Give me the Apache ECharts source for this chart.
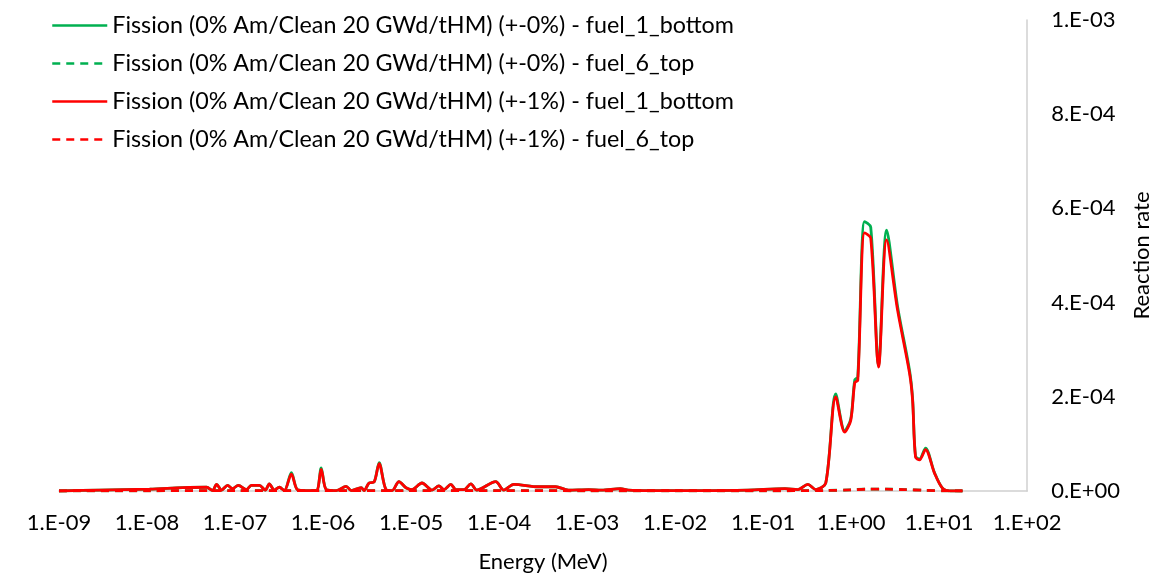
<!DOCTYPE html>
<html>
<head>
<meta charset="utf-8">
<title>Fission reaction rate</title>
<script src="https://cdn.jsdelivr.net/npm/echarts@6/dist/echarts.min.js"></script>
<style>
  html, body { margin: 0; padding: 0; background: #fff; }
  #chart { width: 1161px; height: 581px; }
</style>
</head>
<body>
<div id="chart"></div>
<script>
// energy grid (MeV) for the fuel_1_bottom curves
const energy = [
  1.0e-9, 2.9e-9, 1.07e-8, 2.54e-8, 4.75e-8, 5.56e-8, 6.17e-8, 7.03e-8, 8.23e-8, 9.35e-8,
  1.09e-7, 1.35e-7, 1.53e-7, 1.89e-7, 2.21e-7, 2.45e-7, 2.80e-7, 3.19e-7, 3.63e-7, 4.37e-7,
  5.11e-7, 6.46e-7, 8.38e-7, 9.53e-7, 1.09e-6, 1.41e-6, 1.83e-6, 2.09e-6, 2.71e-6, 2.93e-6,
  3.33e-6, 3.80e-6, 4.34e-6, 5.20e-6, 6.08e-6, 7.29e-6, 8.75e-6, 1.02e-5, 1.33e-5, 1.73e-5,
  2.07e-5, 2.36e-5, 2.83e-5, 3.23e-5, 3.98e-5, 4.78e-5, 5.58e-5, 9.16e-5, 1.13e-4, 1.47e-4,
  2.81e-4, 4.39e-4, 6.15e-4, 1.04e-3, 1.46e-3, 2.39e-3, 2.94e-3, 5.36e-3, 1.83e-2, 6.73e-2,
  0.177, 0.248, 0.322, 0.397, 0.515, 0.668, 0.845, 0.99, 1.10, 1.19,
  1.42, 1.67, 2.05, 2.53, 3.37, 4.61, 4.99, 5.39, 5.98, 7.0,
  8.85, 10.9, 13.4, 18.4
];

// +-0% fuel_1_bottom (green)
const rate0Bottom = [
  0, 2e-6, 4e-6, 7e-6, 8e-6, 1e-6, 1.4e-5, 2e-6, 1.2e-5, 5e-6,
  1.2e-5, 3e-6, 1.2e-5, 1.2e-5, 2e-6, 1.5e-5, 2e-6, 8e-6, 1e-6, 3.9e-5,
  3e-6, 1e-6, 1e-6, 4.9e-5, 3e-6, 1e-6, 1e-5, 1e-6, 7e-6, 1e-6,
  1.7e-5, 1.9e-5, 6.0e-5, 3e-6, 1e-6, 2e-5, 7e-6, 3e-6, 1.7e-5, 2e-6,
  1.1e-5, 3e-6, 1.4e-5, 3e-6, 3e-6, 1.5e-5, 2e-6, 2e-5, 2e-6, 1.4e-5,
  9e-6, 9e-6, 2e-6, 3e-6, 2e-6, 5e-6, 2e-6, 1e-6, 1e-6, 2e-6,
  5e-6, 3e-6, 1.4e-5, 3e-6, 1.7e-5, 2.06e-4, 1.28e-4, 1.53e-4, 2.36e-4, 2.42e-4,
  5.72e-4, 5.6e-4, 2.67e-4, 5.54e-4, 3.92e-4, 2.56e-4, 1.97e-4, 7.4e-5, 6.8e-5, 9.1e-5,
  3.9e-5, 6e-6, 0, 0
];

// +-1% fuel_1_bottom (red)
const rate1Bottom = [
  0, 2e-6, 4e-6, 7e-6, 8e-6, 1e-6, 1.4e-5, 2e-6, 1.2e-5, 5e-6,
  1.2e-5, 3e-6, 1.2e-5, 1.2e-5, 2e-6, 1.5e-5, 2e-6, 8e-6, 1e-6, 3.6e-5,
  3e-6, 1e-6, 1e-6, 4.6e-5, 3e-6, 1e-6, 1e-5, 1e-6, 7e-6, 1e-6,
  1.7e-5, 1.9e-5, 5.8e-5, 3e-6, 1e-6, 2e-5, 7e-6, 3e-6, 1.7e-5, 2e-6,
  1.1e-5, 3e-6, 1.4e-5, 3e-6, 3e-6, 1.5e-5, 2e-6, 2e-5, 2e-6, 1.4e-5,
  9e-6, 9e-6, 2e-6, 3e-6, 2e-6, 5e-6, 2e-6, 1e-6, 1e-6, 2e-6,
  5e-6, 3e-6, 1.4e-5, 3e-6, 1.7e-5, 2.0e-4, 1.25e-4, 1.5e-4, 2.3e-4, 2.35e-4,
  5.48e-4, 5.37e-4, 2.63e-4, 5.33e-4, 3.84e-4, 2.5e-4, 1.93e-4, 7.2e-5, 6.6e-5, 8.8e-5,
  3.8e-5, 6e-6, 0, 0
];

// fuel_6_top curves stay close to zero
const energyTop = [1e-9, 1e-8, 1e-7, 1e-6, 1e-5, 1e-4, 1e-3, 1e-2, 0.1, 0.5, 1.0, 1.5, 2.5, 4.0, 7.0, 12.0, 18.4];
const rate0Top = [0, 5e-7, 1e-6, 1e-6, 1e-6, 1e-6, 5e-7, 5e-7, 5e-7, 1e-6, 2.5e-6, 4e-6, 4e-6, 3e-6, 1.5e-6, 3e-7, 0];
const rate1Top = [0, 5e-7, 1e-6, 1e-6, 1e-6, 1e-6, 5e-7, 5e-7, 5e-7, 1e-6, 2.4e-6, 3.8e-6, 3.8e-6, 2.9e-6, 1.4e-6, 3e-7, 0];

const seriesNames = [
  'Fission (0% Am/Clean 20 GWd/tHM) (+-0%) - fuel_1_bottom',
  'Fission (0% Am/Clean 20 GWd/tHM) (+-0%) - fuel_6_top',
  'Fission (0% Am/Clean 20 GWd/tHM) (+-1%) - fuel_1_bottom',
  'Fission (0% Am/Clean 20 GWd/tHM) (+-1%) - fuel_6_top'
];

const xTickLabels = ['1.E-09', '1.E-08', '1.E-07', '1.E-06', '1.E-05', '1.E-04', '1.E-03', '1.E-02', '1.E-01', '1.E+00', '1.E+01', '1.E+02'];
const yTickLabels = ['0.E+00', '2.E-04', '4.E-04', '6.E-04', '8.E-04', '1.E-03'];

const green = '#00b050';
const red = '#ff0000';
const font = 'Lato';

function pairs(xs, ys) {
  return xs.map((x, i) => [x, ys[i]]);
}

function makeLine(name, data, color, dashed) {
  return {
    name: name,
    type: 'line',
    data: data,
    smooth: 0.3,
    symbol: 'none',
    lineStyle: {
      color: color,
      width: 2.8,
      type: dashed ? [8, 6] : 'solid'
    },
    itemStyle: { color: color }
  };
}

const myChart = echarts.init(document.getElementById('chart'));

let option = {
  animation: false,
  textStyle: { fontFamily: font },
  legend: {
    orient: 'vertical',
    left: 51,
    top: 14,
    padding: 0,
    itemWidth: 55,
    itemHeight: 16,
    itemGap: 15,
    // hide the marker circle, keep only the line sample
    itemStyle: { opacity: 0 },
    lineStyle: { width: 2.5 },
    textStyle: { fontFamily: font, fontSize: 23.3, color: '#000' },
    data: seriesNames
  },
  grid: {
    left: 59,
    right: 131,
    top: 20,
    bottom: 90
  },
  xAxis: {
    type: 'log',
    logBase: 10,
    min: 1e-9,
    max: 1e2,
    interval: 1,
    name: 'Energy (MeV)',
    nameLocation: 'middle',
    nameGap: 60,
    nameTextStyle: { fontFamily: font, fontSize: 22, color: '#000' },
    axisLine: { show: true, lineStyle: { color: '#d0d0d0', width: 1.5 } },
    axisTick: { show: false },
    splitLine: { show: false },
    axisLabel: {
      margin: 21,
      fontFamily: font,
      fontSize: 22,
      color: '#000',
      formatter: function (value) {
        let idx = Math.round(Math.log10(value)) + 9;
        return xTickLabels[idx];
      }
    }
  },
  yAxis: {
    type: 'value',
    position: 'right',
    min: 0,
    max: 1e-3,
    interval: 2e-4,
    name: 'Reaction rate',
    nameLocation: 'middle',
    nameGap: 100,
    nameRotate: 90,
    nameTextStyle: { fontFamily: font, fontSize: 22, color: '#000' },
    axisLine: { show: true, lineStyle: { color: '#d0d0d0', width: 1.5 } },
    axisTick: { show: false },
    splitLine: { show: false },
    axisLabel: {
      margin: 24,
      fontFamily: font,
      fontSize: 22,
      color: '#000',
      formatter: function (value) {
        return yTickLabels[Math.round(value / 2e-4)];
      }
    }
  },
  series: [
    makeLine(seriesNames[0], pairs(energy, rate0Bottom), green, false),
    makeLine(seriesNames[1], pairs(energyTop, rate0Top), green, true),
    makeLine(seriesNames[2], pairs(energy, rate1Bottom), red, false),
    makeLine(seriesNames[3], pairs(energyTop, rate1Top), red, true)
  ]
};

myChart.setOption(option);
</script>
</body>
</html>
